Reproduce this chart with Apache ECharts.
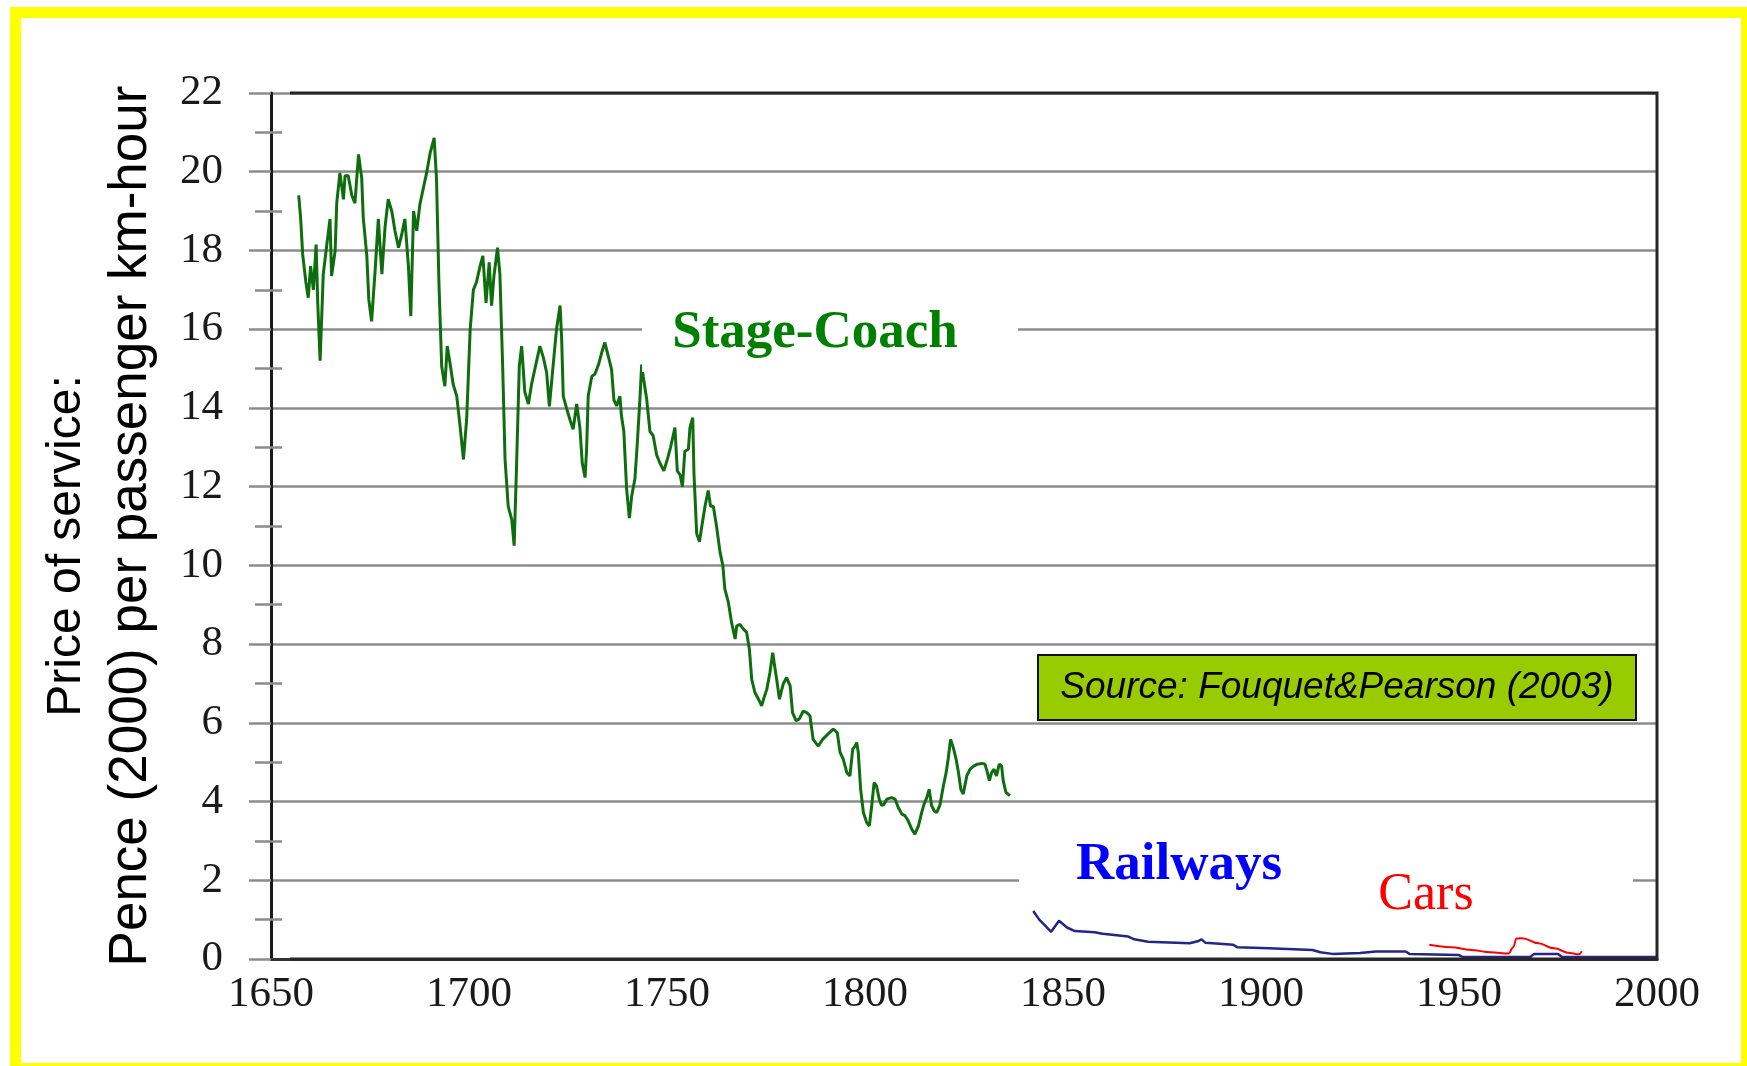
<!DOCTYPE html>
<html>
<head>
<meta charset="utf-8">
<script src="https://cdn.jsdelivr.net/npm/echarts@6.0.0/dist/echarts.min.js"></script>
<style>
html, body { margin: 0; padding: 0; background: #fff; }
#main { width: 1747px; height: 1066px; }
</style>
</head>
<body>
<div id="main"></div>
<script>
// price of service, pence (2000) per passenger km-hour
var stageCoach = [
  [1657.0,19.4],[1657.5,18.8],[1658.0,17.9],[1658.8,17.2],[1659.4,16.8],[1660.0,17.6],[1660.7,17.0],
  [1661.4,18.15],[1661.8,16.67],[1662.4,15.2],[1663.2,17.4],[1664.1,18.15],[1664.9,18.8],[1665.3,17.35],
  [1666.2,18.0],[1666.6,19.2],[1667.4,19.97],[1668.3,19.3],[1668.7,19.9],[1669.5,19.9],[1670.4,19.4],
  [1671.2,19.2],[1672.1,20.44],[1672.9,19.85],[1673.3,18.83],[1674.2,17.86],[1674.7,16.75],[1675.4,16.2],
  [1676.3,17.5],[1677.1,18.8],[1678.0,17.4],[1678.8,18.6],[1679.6,19.3],[1680.5,19.0],[1681.3,18.5],
  [1682.2,18.07],[1683.0,18.4],[1683.8,18.8],[1684.7,17.6],[1685.3,16.33],[1686.0,19.0],[1686.8,18.5],
  [1687.6,19.17],[1688.5,19.6],[1689.3,19.97],[1690.2,20.48],[1691.2,20.86],[1691.8,19.8],[1692.4,17.2],
  [1693.1,15.06],[1693.9,14.55],[1694.5,15.57],[1695.2,15.14],[1696.0,14.6],[1696.9,14.3],[1697.7,13.58],
  [1698.6,12.69],[1699.4,13.7],[1700.3,16.0],[1701.1,17.0],[1701.9,17.2],[1702.8,17.6],[1703.5,17.86],
  [1704.3,16.67],[1705.1,17.7],[1705.7,16.6],[1706.3,17.35],[1707.2,18.07],[1707.8,17.4],[1708.5,15.06],
  [1709.1,12.7],[1709.9,11.5],[1710.8,11.16],[1711.4,10.5],[1712.0,12.5],[1712.7,15.06],[1713.3,15.57],
  [1714.1,14.4],[1715.0,14.1],[1715.8,14.6],[1717.1,15.2],[1717.9,15.57],[1718.8,15.27],[1719.6,14.9],
  [1720.3,14.04],[1721.3,15.14],[1722.1,16.0],[1723.0,16.6],[1723.4,15.75],[1723.8,14.3],[1724.7,13.97],
  [1725.5,13.7],[1726.3,13.46],[1727.2,14.1],[1728.0,13.5],[1728.6,12.6],[1729.3,12.23],[1729.7,12.95],
  [1730.1,14.3],[1731.0,14.8],[1731.8,14.86],[1732.7,15.1],[1733.5,15.4],[1734.3,15.66],[1735.2,15.3],
  [1736.0,14.98],[1736.6,14.2],[1737.3,14.05],[1738.1,14.3],[1738.5,13.8],[1739.1,13.4],[1739.8,11.94],
  [1740.5,11.2],[1741.1,11.77],[1741.9,12.2],[1742.5,13.1],[1743.2,14.3],[1743.6,15.1],[1744.0,14.8],
  [1744.9,14.2],[1745.7,13.4],[1746.5,13.3],[1747.4,12.8],[1748.2,12.6],[1749.2,12.4],[1750.1,12.7],
  [1750.9,13.0],[1752.0,13.5],[1752.6,12.4],[1753.3,12.3],[1753.9,12.0],[1754.5,12.9],[1755.4,12.95],
  [1755.8,13.5],[1756.5,13.75],[1756.8,12.36],[1757.5,10.8],[1758.2,10.6],[1758.8,11.0],[1759.6,11.5],
  [1760.4,11.9],[1761.0,11.5],[1761.7,11.5],[1762.5,11.0],[1763.4,10.33],[1764.1,10.0],[1764.6,9.4],
  [1765.5,9.06],[1766.3,8.55],[1767.2,8.13],[1767.6,8.46],[1768.4,8.5],[1769.3,8.38],[1770.1,8.3],
  [1770.8,7.87],[1771.4,7.1],[1772.2,6.77],[1773.1,6.6],[1773.9,6.43],[1774.5,6.64],[1775.2,6.85],
  [1776.0,7.28],[1776.7,7.78],[1777.3,7.36],[1777.7,7.1],[1778.4,6.6],[1779.0,6.85],[1779.4,7.0],
  [1780.2,7.15],[1781.1,6.94],[1781.7,6.26],[1782.6,6.05],[1783.4,6.1],[1784.4,6.3],[1785.3,6.26],
  [1786.1,6.18],[1786.9,5.58],[1788.2,5.41],[1789.3,5.58],[1790.5,5.7],[1792.0,5.84],[1793.0,5.75],
  [1793.7,5.25],[1794.5,5.08],[1795.4,4.74],[1796.2,4.65],[1796.9,5.33],[1797.5,5.41],[1797.9,5.5],
  [1798.3,5.25],[1798.9,4.31],[1799.6,3.72],[1800.4,3.47],[1801.1,3.38],[1801.7,3.9],[1802.3,4.48],
  [1802.9,4.4],[1803.6,4.06],[1804.2,3.9],[1804.8,3.93],[1805.5,4.06],[1806.7,4.1],[1807.6,4.06],
  [1808.4,3.85],[1809.3,3.68],[1810.1,3.64],[1810.9,3.51],[1811.8,3.3],[1812.6,3.17],[1813.5,3.38],
  [1814.3,3.72],[1814.9,3.93],[1815.6,4.1],[1816.2,4.31],[1816.8,3.9],[1817.5,3.76],[1818.1,3.72],
  [1818.9,3.9],[1819.8,4.4],[1820.5,4.74],[1821.0,5.08],[1821.6,5.58],[1822.3,5.37],[1823.0,5.08],
  [1823.6,4.74],[1824.2,4.31],[1824.8,4.19],[1825.7,4.65],[1826.5,4.82],[1827.4,4.9],[1828.4,4.95],
  [1829.5,4.97],[1830.3,4.95],[1830.9,4.74],[1831.4,4.53],[1832.0,4.74],[1832.6,4.82],[1833.2,4.65],
  [1833.9,4.95],[1834.5,4.9],[1834.9,4.53],[1835.6,4.23],[1836.6,4.15]
];

var railways = [
  [1842.5,1.22],[1844,1.0],[1845.5,0.85],[1847,0.69],[1849,0.97],[1851,0.8],[1853,0.71],
  [1858,0.68],[1860,0.64],[1863,0.61],[1866.5,0.57],[1868,0.5],[1871.5,0.44],[1882,0.40],
  [1884,0.45],[1885,0.5],[1886,0.41],[1893,0.36],[1894,0.3],[1902,0.27],[1913,0.23],
  [1915,0.17],[1918,0.13],[1925,0.15],[1929,0.19],[1936.5,0.19],[1937.5,0.13],[1950,0.1],
  [1951,0.05],[1968,0.05],[1969,0.13],[1975,0.13],[1976,0.05],[2000,0.05]
];

var cars = [
  [1942.5,0.36],[1948,0.3],[1953,0.23],[1958,0.17],[1962.5,0.14],[1963.7,0.3],[1964.5,0.52],
  [1966,0.53],[1970,0.4],[1974,0.27],[1978,0.15],[1980.3,0.12],[1981,0.2]
];

var yearTicks = [1650, 2000, 50];
var priceTicks = [0, 22, 2];

var gridGray = '#8c8c8c';
var serif = 'Liberation Serif';

var myChart = echarts.init(document.getElementById('main'));

var options = {
  backgroundColor: '#fff',
  animation: false,
  grid: {
    left: 271, top: 93, right: 90, bottom: 107,
    show: false
  },
  xAxis: {
    type: 'value',
    min: yearTicks[0], max: yearTicks[1], interval: yearTicks[2],
    axisLine: { show: true, lineStyle: { color: '#333', width: 3 } },
    axisTick: { show: false },
    splitLine: { show: false },
    axisLabel: {
      margin: 14, fontFamily: serif, fontSize: 43, color: '#1a1a1a',
      formatter: function (v) { return String(v); }
    }
  },
  yAxis: [{
    type: 'value',
    min: priceTicks[0], max: priceTicks[1], interval: priceTicks[2],
    axisLine: { show: true, lineStyle: { color: '#1a1a1a', width: 3 } },
    axisTick: { show: true, length: 22, lineStyle: { color: gridGray, width: 2.5 } },
    minorTick: { show: true, splitNumber: 2, length: 16, lineStyle: { color: gridGray, width: 2.5 } },
    splitLine: { show: true, lineStyle: { color: gridGray, width: 2.5 } },
    axisLabel: { margin: 48, fontFamily: serif, fontSize: 43, color: '#1a1a1a' }
  }, {
    // second copy only to let the minor ticks cross the axis line
    type: 'value', position: 'left',
    min: priceTicks[0], max: priceTicks[1], interval: priceTicks[2],
    axisLine: { show: false },
    axisLabel: { show: false },
    splitLine: { show: false },
    axisTick: { show: false, inside: true },
    minorTick: { show: true, splitNumber: 2, length: 11, lineStyle: { color: gridGray, width: 2.5 } }
  }],
  series: [{
    name: 'Stage-Coach',
    type: 'line',
    data: stageCoach,
    symbol: 'none',
    lineStyle: { color: '#0e6e0e', width: 3 },
    z: 3
  }, {
    name: 'Railways',
    type: 'line',
    data: railways,
    symbol: 'none',
    lineStyle: { color: '#24248a', width: 2.5 },
    z: 3
  }, {
    name: 'Cars',
    type: 'line',
    data: cars,
    symbol: 'none',
    smooth: 0.4,
    smoothMonotone: 'x',
    lineStyle: { color: '#ff0000', width: 2 },
    z: 3
  }],
  graphic: [
    // plot frame
    { type: 'polyline', z: 60, shape: { points: [[290, 93], [1657, 93], [1657, 959], [290, 959]] },
      style: { fill: null, stroke: '#262626', lineWidth: 3 } },
    // white boxes behind the labels
    { type: 'rect', z: 50, shape: { x: 642, y: 300, width: 376, height: 72 }, style: { fill: '#fff' } },
    { type: 'rect', z: 50, shape: { x: 1019, y: 845, width: 614, height: 58 }, style: { fill: '#fff' } },
    { type: 'text', z: 51, x: 815, y: 333,
      style: { text: 'Stage-Coach', font: 'bold 53px "Liberation Serif"', fill: '#008000', align: 'center', verticalAlign: 'middle' } },
    { type: 'text', z: 51, x: 1179, y: 865,
      style: { text: 'Railways', font: 'bold 53px "Liberation Serif"', fill: '#0000ff', align: 'center', verticalAlign: 'middle' } },
    { type: 'text', z: 51, x: 1426, y: 895,
      style: { text: 'Cars', font: '52px "Liberation Serif"', fill: '#ff0000', align: 'center', verticalAlign: 'middle' } },
    // source box
    { type: 'rect', z: 52, shape: { x: 1038, y: 655, width: 598, height: 65 },
      style: { fill: '#99cc00', stroke: '#111', lineWidth: 2 } },
    { type: 'text', z: 53, x: 1337, y: 688,
      style: { text: 'Source: Fouquet&Pearson (2003)', font: 'italic 37px "Liberation Sans"', fill: '#000', align: 'center', verticalAlign: 'middle' } },
    // axis title, two rotated lines
    { type: 'text', z: 51, x: 67, y: 546, rotation: Math.PI / 2,
      style: { text: 'Price of service:', font: '48px "Liberation Sans"', fill: '#000', align: 'center', verticalAlign: 'middle' } },
    { type: 'text', z: 51, x: 131, y: 526, rotation: Math.PI / 2,
      style: { text: 'Pence (2000) per passenger km-hour', font: '53px "Liberation Sans"', fill: '#000', align: 'center', verticalAlign: 'middle' } },
    // yellow frame
    { type: 'rect', z: 100, shape: { x: 15.5, y: 12.5, width: 1731, height: 1056 },
      style: { fill: null, stroke: '#ffff00', lineWidth: 11 } }
  ]
};

myChart.setOption(options);
</script>
</body>
</html>
